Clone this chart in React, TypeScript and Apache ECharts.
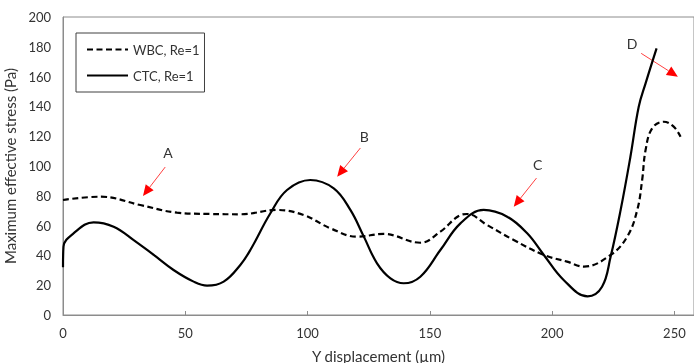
import React, { useEffect, useRef } from "react";
import * as echarts from "echarts";

// Y displacement (µm) and maximum effective stress (Pa) along each cell path
const ctcX = [0, 0.2, 4.3, 12.5, 20.7, 28.9, 37.1, 45.2, 53.4, 58.9, 65.7, 72.5, 76.6, 84.8, 91.6, 101.1, 110.7, 117.5, 123, 128.4, 133.9, 139.3, 146.1, 154.3, 162.5, 172, 181.6, 189.8, 196.6, 204.7, 214.5, 220.4, 223.9, 228, 232, 235.4, 238.2, 242.7];
const ctcY = [32, 45.8, 54.8, 62.2, 59.3, 50.3, 40.3, 30.2, 22.4, 19.7, 22.4, 33.6, 43.6, 68.3, 83.9, 90.6, 85, 70.5, 52.6, 34.7, 24.6, 21.3, 25.7, 43.6, 61.5, 70.5, 66, 54.8, 40.3, 23.5, 12.5, 19, 39.1, 70.5, 106.2, 139.8, 155.5, 179];

const wbcX = [0, 15.3, 31.6, 46.6, 60.2, 72.5, 87.5, 98.4, 109.3, 120.2, 131.1, 146.1, 154.3, 162.5, 165.2, 173.4, 184.3, 196.6, 206.1, 213, 223.9, 230.7, 234.8, 236.8, 238.2, 240.9, 245.6, 249.7, 252.5];
const wbcY = [77.2, 79.4, 73.8, 68.7, 67.8, 67.6, 70.5, 67.1, 58.2, 52.6, 54.4, 48.5, 55.9, 67.1, 67.8, 60.4, 50.3, 40.3, 35.8, 32.5, 40.3, 52.6, 70.5, 90.6, 110.7, 125.3, 129.7, 126.4, 119.7];

const xTicks = [0, 50, 100, 150, 200, 250];

// Annotation letters and arrows, in data coordinates
const labels = ["A", "B", "C", "D"];
const labelPos = [[42.9, 108.9], [123.2, 120.1], [194.1, 100.7], [232.7, 181.9]];
const arrowFrom = [[41.8, 99.3], [121.6, 112.1], [193.6, 91.9], [236.4, 175.6]];
const arrowTo = [[32.7, 79.9], [112.1, 92.8], [184.3, 72.7], [251.4, 159.9]];

const FONT = "Lato, 'Open Sans', sans-serif";
const TEXT = "#333333";
const AXIS = "#8c8c8c";

function pairs(xs: number[], ys: number[]) {
  return xs.map((x, i) => [x, ys[i]]);
}

export default function App() {
  const ref = useRef<HTMLDivElement>(null);

  useEffect(() => {
    if (!ref.current) return;
    const chart = echarts.init(ref.current, null, { renderer: "svg" });
    chart.setOption({
      animation: false,
      textStyle: { fontFamily: FONT },
      grid: {
        left: 63,
        right: 0,
        top: 17,
        bottom: 48,
        outerBoundsMode: "none",
        containLabel: false,
        show: true,
        borderColor: AXIS,
        borderWidth: 1,
      },
      legend: {
        left: 76,
        top: 33,
        orient: "vertical",
        itemWidth: 41,
        itemHeight: 10,
        itemGap: 13,
        padding: [10, 5, 10, 10],
        borderColor: "#404040",
        borderWidth: 1,
        itemStyle: { opacity: 0 },
        textStyle: { fontSize: 13, color: TEXT, fontFamily: FONT },
        data: ["WBC, Re=1", "CTC, Re=1"],
      },
      xAxis: {
        type: "value",
        min: 0,
        max: 258,
        interval: 50,
        name: "Y displacement (µm)",
        nameLocation: "middle",
        nameGap: 33,
        nameTextStyle: { fontSize: 15, color: TEXT, fontFamily: FONT },
        axisLine: { lineStyle: { color: AXIS, width: 1 } },
        axisTick: { inside: true, length: 4, lineStyle: { color: AXIS }, customValues: xTicks },
        axisLabel: { fontSize: 13, color: TEXT, margin: 11, customValues: xTicks },
        splitLine: { show: false },
      },
      yAxis: {
        type: "value",
        min: 0,
        max: 200,
        interval: 20,
        name: "Maximum effective stress (Pa)",
        nameLocation: "middle",
        nameGap: 38,
        nameTextStyle: { fontSize: 15, color: TEXT, fontFamily: FONT },
        axisLine: { show: true, lineStyle: { color: AXIS, width: 1 } },
        axisTick: { show: false },
        axisLabel: { fontSize: 13, color: TEXT, margin: 12 },
        splitLine: { show: false },
      },
      series: [
        {
          name: "WBC, Re=1",
          type: "line",
          data: pairs(wbcX, wbcY),
          smooth: 0.4,
          showSymbol: false,
          symbol: "none",
          color: "#000",
          lineStyle: { color: "#000", width: 2.2, type: [6, 3.5] },
        },
        {
          name: "CTC, Re=1",
          type: "line",
          data: pairs(ctcX, ctcY),
          smooth: 0.4,
          showSymbol: false,
          symbol: "none",
          color: "#000",
          lineStyle: { color: "#000", width: 2.2 },
        },
      ],
    });

    // Red arrows pointing at the regions of interest
    const graphics: any[] = [];
    labels.forEach((t, i) => {
      const p = chart.convertToPixel({ gridIndex: 0 }, labelPos[i]) as number[];
      const a = chart.convertToPixel({ gridIndex: 0 }, arrowFrom[i]) as number[];
      const b = chart.convertToPixel({ gridIndex: 0 }, arrowTo[i]) as number[];
      const dx = b[0] - a[0];
      const dy = b[1] - a[1];
      const len = Math.hypot(dx, dy);
      const ux = dx / len;
      const uy = dy / len;
      const head = 11;
      const half = 5;
      const bx = b[0] - ux * head;
      const by = b[1] - uy * head;
      graphics.push({
        type: "text",
        x: p[0],
        y: p[1],
        style: { text: t, fill: TEXT, font: `14px ${FONT}`, align: "center", verticalAlign: "middle" },
      });
      graphics.push({
        type: "line",
        shape: { x1: a[0], y1: a[1], x2: bx, y2: by },
        style: { stroke: "#ff4040", lineWidth: 1 },
      });
      graphics.push({
        type: "polygon",
        shape: {
          points: [
            [b[0], b[1]],
            [bx - uy * half, by + ux * half],
            [bx + uy * half, by - ux * half],
          ],
        },
        style: { fill: "#ff0000" },
      });
    });
    chart.setOption({ graphic: graphics });

    return () => chart.dispose();
  }, []);

  return <div ref={ref} style={{ position: "fixed", left: 0, top: 0, width: 694, height: 363 }} />;
}
